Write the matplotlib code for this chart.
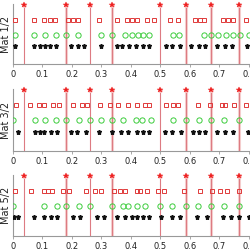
import numpy as np
import matplotlib
matplotlib.use('Agg')
import matplotlib.pyplot as plt

# event positions shared by all panels (red lines with stars)
events = [0.04, 0.18, 0.262, 0.337, 0.5, 0.586, 0.672, 0.766]
banded = [False, True, False, True, False, True, True, True]

labels = ['Mat 1/2', 'Mat 3/2', 'Mat 5/2']

squares = [
    [0.009, 0.072, 0.107, 0.125, 0.143, 0.186, 0.203, 0.221, 0.293, 0.355,
     0.386, 0.403, 0.421, 0.456, 0.478, 0.532, 0.559, 0.619, 0.635, 0.649,
     0.712, 0.730, 0.746, 0.790],
    [0.011, 0.059, 0.088, 0.107, 0.136, 0.156, 0.203, 0.235, 0.253, 0.296,
     0.330, 0.358, 0.390, 0.421, 0.449, 0.463, 0.519, 0.544, 0.559, 0.627,
     0.668, 0.708, 0.719, 0.749, 0.790],
    [0.008, 0.062, 0.105, 0.121, 0.134, 0.172, 0.190, 0.249, 0.279, 0.298,
     0.345, 0.364, 0.381, 0.423, 0.431, 0.456, 0.492, 0.512, 0.580, 0.635,
     0.675, 0.702, 0.727, 0.767],
]
circles = [
    [0.009, 0.073, 0.111, 0.147, 0.181, 0.223, 0.298, 0.338, 0.381, 0.406,
     0.424, 0.443, 0.462, 0.545, 0.565, 0.647, 0.671, 0.697, 0.722, 0.746,
     0.769, 0.801],
    [0.002, 0.075, 0.108, 0.146, 0.181, 0.224, 0.262, 0.298, 0.338, 0.374,
     0.419, 0.440, 0.470, 0.542, 0.586, 0.631, 0.672, 0.716, 0.767],
    [0.002, 0.106, 0.151, 0.181, 0.224, 0.262, 0.338, 0.375, 0.392, 0.420,
     0.449, 0.499, 0.541, 0.586, 0.628, 0.672, 0.716, 0.767],
]
blacks = [
    [0.009, 0.073, 0.092, 0.110, 0.128, 0.146, 0.198, 0.223, 0.243, 0.299,
     0.355, 0.372, 0.395, 0.417, 0.442, 0.462, 0.520, 0.540, 0.567, 0.606,
     0.631, 0.652, 0.694, 0.718, 0.745, 0.795],
    [0.018, 0.075, 0.094, 0.107, 0.129, 0.150, 0.197, 0.219, 0.249, 0.294,
     0.338, 0.367, 0.392, 0.421, 0.442, 0.462, 0.516, 0.541, 0.569, 0.611,
     0.632, 0.652, 0.692, 0.718, 0.748, 0.797],
    [0.006, 0.019, 0.071, 0.106, 0.129, 0.150, 0.205, 0.228, 0.285, 0.311,
     0.353, 0.380, 0.403, 0.420, 0.443, 0.463, 0.503, 0.539, 0.567, 0.625,
     0.660, 0.714, 0.740, 0.767, 0.801],
]

fig = plt.figure(figsize=(2.5, 2.5), dpi=100, facecolor='white')
W = H = 250.0
left = 12.7
xmax = (W - left) / 295.0
bottoms = [64, 151, 236]
heights = [59.7, 62, 61]

for i in range(3):
    b = bottoms[i]
    h = heights[i]
    ax = fig.add_axes([left / W, 1 - b / H, 1 - left / W, h / H])
    for x, band in zip(events, banded):
        if band:
            ax.plot([x, x], [0, 4], color='#f6d2d2', lw=2.2, zorder=1,
                    solid_capstyle='butt')
        ax.plot([x, x], [0, 4], color='#dd7b82', lw=0.8, zorder=2)
    ax.plot(events, [4] * len(events), 'o', ms=3.6, color='#f8c4c4',
            mec='none', zorder=3, clip_on=False)
    ax.plot(events, [4] * len(events), '*', ms=3.8, color='#ee2020',
            mec='#ee2020', mew=0.3, zorder=4, clip_on=False)
    ax.plot(squares[i], [3] * len(squares[i]), 's', ms=3.0, mfc='none',
            mec='#e03a3a', mew=0.7, zorder=3)
    ax.plot(circles[i], [2] * len(circles[i]), 'o', ms=3.8, mfc='none',
            mec='#3ccc3c', mew=0.7, zorder=3)
    ax.plot(blacks[i], [1.25] * len(blacks[i]), '*', ms=3.6, color='#111111',
            zorder=3)

    for s in ['top', 'right']:
        ax.spines[s].set_visible(False)
    for s in ['left', 'bottom']:
        ax.spines[s].set_color('#999999')
        ax.spines[s].set_linewidth(0.8)
    ax.set_yticks([])
    ax.set_xticks(np.arange(0, 0.81, 0.1))
    ax.set_xticklabels(['0', '0.1', '0.2', '0.3', '0.4', '0.5', '0.6', '0.7', '0.8'])
    ax.set_xlim(0, xmax)
    ax.set_ylim(0, 4.05)
    ax.tick_params(axis='x', length=2, width=0.6, color='#999999',
                   labelsize=6, pad=2, labelcolor='#222222')
    ax.set_ylabel(labels[i], fontsize=7, labelpad=1, color='#222222')

fig.savefig('out.png', dpi=100, facecolor='white')
